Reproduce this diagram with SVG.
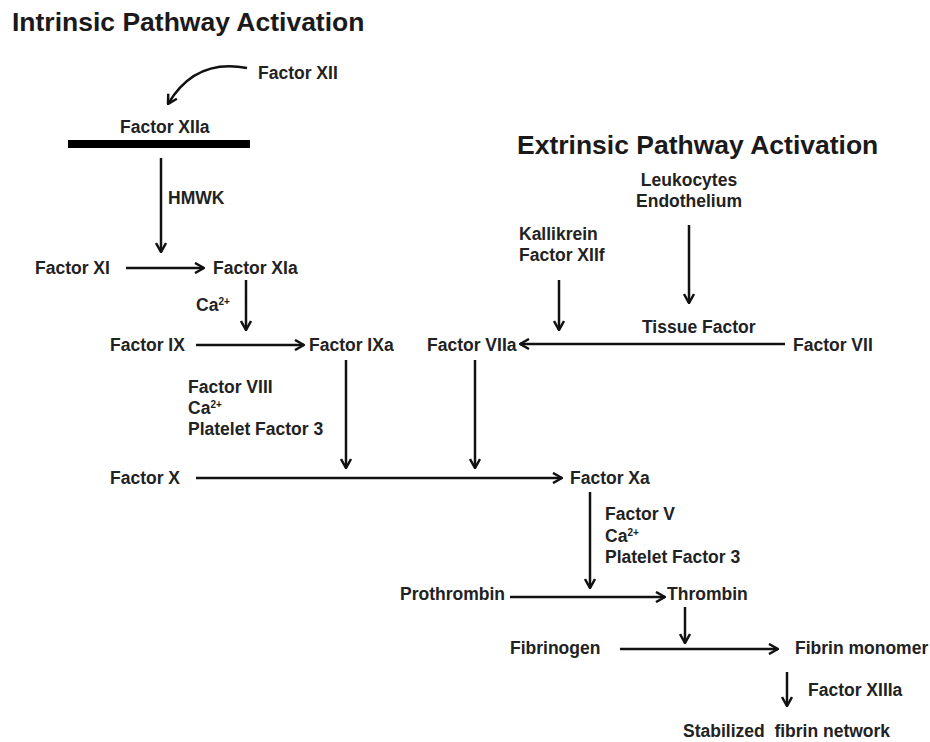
<svg xmlns="http://www.w3.org/2000/svg" width="930" height="742" viewBox="0 0 930 742">
<style>
.t{font-family:"Liberation Sans",Arial,sans-serif;font-weight:bold;font-size:17.5px;fill:#222}
.h{font-family:"Liberation Sans",Arial,sans-serif;font-weight:bold;font-size:26.5px;fill:#1a1a1a}
.s{font-size:10px}
.c{stroke:#111;stroke-width:2.5;fill:none;marker-end:url(#ah)}
</style>
<defs>
<marker id="ah" viewBox="0 0 12 12" refX="11" refY="6" markerWidth="12" markerHeight="12" markerUnits="userSpaceOnUse" orient="auto">
<path d="M2,1 L11,6 L2,11" fill="none" stroke="#111" stroke-width="2.5"/>
</marker>
</defs>
<rect width="930" height="742" fill="#fff"/>
<text class="h" x="12" y="31">Intrinsic Pathway Activation</text>
<text class="h" x="517" y="154">Extrinsic Pathway Activation</text>
<g id="factorXII"><text class="t" x="258" y="79">Factor XII</text></g>
<g id="factorXIIa"><text class="t" x="120" y="133">Factor XIIa</text><rect x="68" y="140" width="182" height="8" fill="#000"/></g>
<g id="hmwk"><text class="t" x="168" y="204">HMWK</text></g>
<g id="factorXI"><text class="t" x="35" y="274">Factor XI</text></g>
<g id="factorXIa"><text class="t" x="213" y="274">Factor XIa</text></g>
<g id="ca1"><text class="t" x="196" y="311">Ca<tspan class="s" dy="-6">2+</tspan></text></g>
<g id="factorIX"><text class="t" x="110" y="351">Factor IX</text></g>
<g id="factorIXa"><text class="t" x="309" y="351">Factor IXa</text></g>
<g id="cofactors1"><text class="t" x="188" y="393">Factor VIII</text><text class="t" x="188" y="414">Ca<tspan class="s" dy="-6">2+</tspan></text><text class="t" x="188" y="435">Platelet Factor 3</text></g>
<g id="factorX"><text class="t" x="110" y="484">Factor X</text></g>
<g id="factorXa"><text class="t" x="570" y="484">Factor Xa</text></g>
<g id="leukocytes"><text class="t" x="689" y="186" text-anchor="middle">Leukocytes</text><text class="t" x="689" y="207" text-anchor="middle">Endothelium</text></g>
<g id="kallikrein"><text class="t" x="519" y="240">Kallikrein</text><text class="t" x="519" y="261">Factor XIIf</text></g>
<g id="tissueFactor"><text class="t" x="642" y="333">Tissue Factor</text></g>
<g id="factorVIIa"><text class="t" x="427" y="351">Factor VIIa</text></g>
<g id="factorVII"><text class="t" x="793" y="351">Factor VII</text></g>
<g id="cofactors2"><text class="t" x="605" y="520">Factor V</text><text class="t" x="605" y="542">Ca<tspan class="s" dy="-6">2+</tspan></text><text class="t" x="605" y="563">Platelet Factor 3</text></g>
<g id="prothrombin"><text class="t" x="400" y="600">Prothrombin</text></g>
<g id="thrombin"><text class="t" x="667" y="600">Thrombin</text></g>
<g id="fibrinogen"><text class="t" x="510" y="654">Fibrinogen</text></g>
<g id="fibrinMonomer"><text class="t" x="795" y="654">Fibrin monomer</text></g>
<g id="factorXIIIa"><text class="t" x="808" y="696">Factor XIIIa</text></g>
<g id="stabilized"><text class="t" x="683" y="737" style="white-space:pre">Stabilized  fibrin network</text></g>
<g id="connectors">
<path class="c" d="M247,68 Q195,58 168,104"/>
<path class="c" d="M161,158 V252"/>
<path class="c" d="M126,268 H204"/>
<path class="c" d="M246,280 V330"/>
<path class="c" d="M196,345 H304"/>
<path class="c" d="M346,360 V468"/>
<path class="c" d="M475,360 V468"/>
<path class="c" d="M196,478 H562"/>
<path class="c" d="M785,344 H520"/>
<path class="c" d="M689,225 V303"/>
<path class="c" d="M559,280 V330"/>
<path class="c" d="M590,492 V588"/>
<path class="c" d="M510,597 H665"/>
<path class="c" d="M685,607 V643"/>
<path class="c" d="M620,649 H778"/>
<path class="c" d="M787,672 V706"/>
</g>
</svg>
